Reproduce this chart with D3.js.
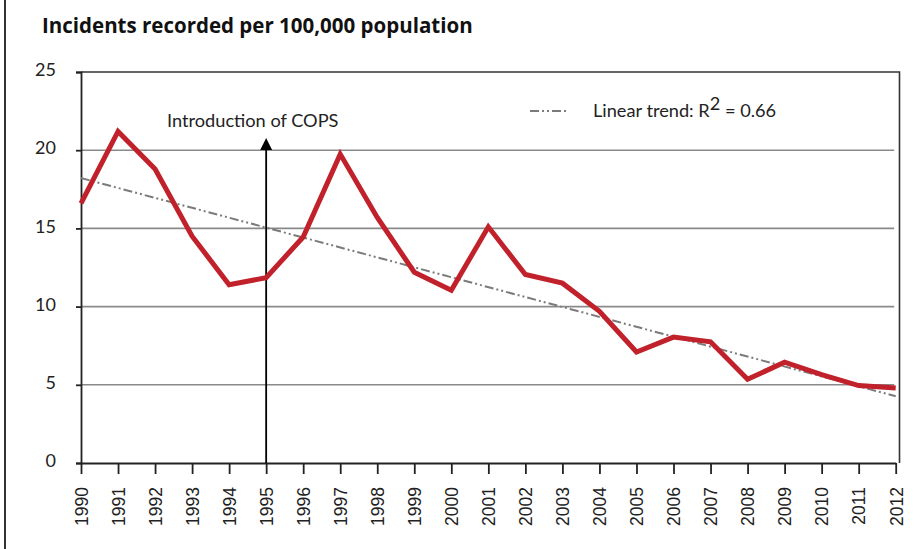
<!DOCTYPE html>
<html>
<head>
<meta charset="utf-8">
<script src="https://cdn.jsdelivr.net/npm/d3@7"></script>
<style>
  body { margin: 0; background: #fff; }
  svg { display: block; }
</style>
</head>
<body>
<div id="chart"></div>
<script>
const WIDTH = 922;
const HEIGHT = 549;

// data
const years = [1990, 1991, 1992, 1993, 1994, 1995, 1996, 1997, 1998, 1999, 2000,
               2001, 2002, 2003, 2004, 2005, 2006, 2007, 2008, 2009, 2010, 2011, 2012];
const incidents = [16.6, 21.2, 18.8, 14.5, 11.4, 11.85, 14.45, 19.75, 15.7, 12.2, 11.05,
                   15.1, 12.05, 11.5, 9.7, 7.1, 8.05, 7.75, 5.35, 6.45, 5.65, 4.95, 4.8];
const trendYears = [1990, 2012];
const trendValues = [18.22, 4.27];
const yTicks = [0, 5, 10, 15, 20, 25];
const copsYear = 1995;

const LINE_COLOR = "#c1212b";
const GRID_COLOR = "#8a8a8a";
const TREND_COLOR = "#7b7b7b";
const TITLE_FONT = "'Open Sans', Lato, sans-serif";
const LABEL_FONT = "Lato, 'Open Sans', sans-serif";
const YEAR_FONT = "'Liberation Sans', Arial, sans-serif";

const plot = { left: 81, right: 895.7, top: 72, bottom: 463, frameRight: 899.5 };

var svg = d3.select("#chart")
    .append("svg")
    .attr("width", WIDTH)
    .attr("height", HEIGHT);

var xScale = d3.scaleLinear().domain([1990, 2012]).range([plot.left, plot.right]),
    yScale = d3.scaleLinear().domain([0, 25]).range([plot.bottom, plot.top]);

// outer frame edge on the left
svg.append("line")
    .attr("x1", 5).attr("x2", 5)
    .attr("y1", 0).attr("y2", HEIGHT)
    .attr("stroke", "#333").attr("stroke-width", 2);

// title
svg.append("text")
    .attr("x", 42).attr("y", 33)
    .attr("font-family", TITLE_FONT)
    .attr("font-weight", "bold")
    .attr("font-size", 20.5)
    .attr("fill", "#111")
    .text("Incidents recorded per 100,000 population");

// horizontal gridlines
svg.append("g")
    .selectAll("line")
    .data(yTicks.filter(d => d > 0 && d < 25))
    .enter().append("line")
    .attr("x1", plot.left).attr("x2", plot.right - 1.5)
    .attr("y1", d => yScale(d)).attr("y2", d => yScale(d))
    .attr("stroke", GRID_COLOR).attr("stroke-width", 1.6);

// plot frame (top + right)
svg.append("path")
    .attr("d", `M${plot.left},${plot.top}H${plot.frameRight}V${plot.bottom}`)
    .attr("fill", "none").attr("stroke", "#333").attr("stroke-width", 1.6);

// y axis
var yAxis = d3.axisLeft(yScale).tickValues(yTicks).tickSize(5).tickPadding(20);
var yg = svg.append("g")
    .attr("transform", `translate(${plot.left},0)`)
    .call(yAxis);
yg.select(".domain").attr("stroke", "#222").attr("stroke-width", 1.8);
yg.selectAll(".tick line").attr("stroke", "#222").attr("stroke-width", 1.8);
yg.selectAll(".tick text")
    .attr("font-family", LABEL_FONT)
    .attr("font-size", 18)
    .attr("fill", "#222")
    .attr("dy", "0.2em");

// x axis
var xAxis = d3.axisBottom(xScale).tickValues(years).tickFormat(d3.format("d"))
    .tickSize(11).tickSizeOuter(0);
var xg = svg.append("g")
    .attr("transform", `translate(0,${plot.bottom})`)
    .call(xAxis);
xg.select(".domain").attr("stroke", "#222").attr("stroke-width", 1.8);
xg.selectAll(".tick line").attr("stroke", "#222").attr("stroke-width", 1.8);
xg.selectAll(".tick text")
    .attr("font-family", YEAR_FONT)
    .attr("font-size", 17.5)
    .attr("fill", "#222")
    .attr("text-anchor", "end")
    .attr("transform", "rotate(-90)")
    .attr("x", -24)
    .attr("y", 0)
    .attr("dy", "0.36em");

// trend line
var trend = d3.line()
    .x((d, i) => xScale(trendYears[i]))
    .y(d => yScale(d));
svg.append("path")
    .datum(trendValues)
    .attr("d", trend)
    .attr("fill", "none")
    .attr("stroke", TREND_COLOR)
    .attr("stroke-width", 2)
    .attr("stroke-dasharray", "9,3,2,3,2,3");

// COPS arrow
svg.append("line")
    .attr("x1", xScale(copsYear)).attr("x2", xScale(copsYear))
    .attr("y1", plot.bottom).attr("y2", 150)
    .attr("stroke", "#000").attr("stroke-width", 1.8);
svg.append("path")
    .attr("d", `M${xScale(copsYear)},138l-6,12h12Z`)
    .attr("fill", "#000");

svg.append("text")
    .attr("x", 167).attr("y", 127)
    .attr("font-family", LABEL_FONT)
    .attr("font-size", 18.2)
    .attr("fill", "#222")
    .text("Introduction of COPS");

// incidents line
var line = d3.line()
    .x((d, i) => xScale(years[i]))
    .y(d => yScale(d));
svg.append("path")
    .datum(incidents)
    .attr("d", line)
    .attr("fill", "none")
    .attr("stroke", LINE_COLOR)
    .attr("stroke-width", 5)
    .attr("stroke-linejoin", "miter");

// legend
svg.append("line")
    .attr("x1", 530).attr("x2", 568)
    .attr("y1", 111).attr("y2", 111)
    .attr("stroke", TREND_COLOR)
    .attr("stroke-width", 2)
    .attr("stroke-dasharray", "9,3,2,3,2,3");

var legendText = svg.append("text")
    .attr("x", 593).attr("y", 117)
    .attr("font-family", LABEL_FONT)
    .attr("font-size", 18.2)
    .attr("fill", "#222");
legendText.append("tspan").text("Linear trend: R");
legendText.append("tspan").attr("dy", -7).text("2");
legendText.append("tspan").attr("dy", 7).text(" = 0.66");
</script>
</body>
</html>
